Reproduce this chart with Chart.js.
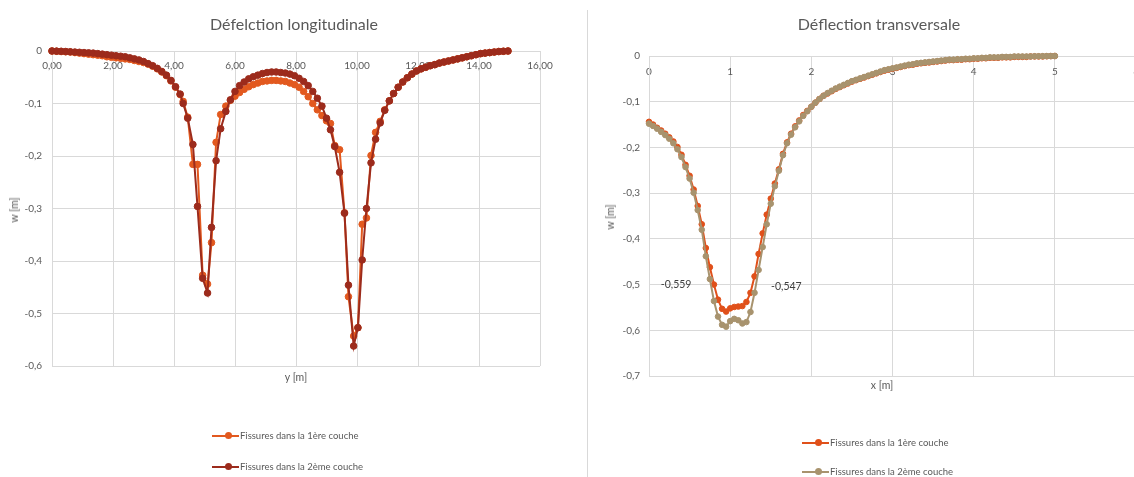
<!DOCTYPE html>
<html>
<head>
<meta charset="utf-8">
<script src="https://cdn.jsdelivr.net/npm/chart.js@4.4.1/dist/chart.umd.min.js"></script>
<style>
  body { margin: 0; width: 1134px; height: 477px; overflow: hidden; position: relative; background: #fff; font-family: Lato, sans-serif; color: #595959; }
  canvas { position: absolute; top: 0; }
  .txt { position: absolute; white-space: nowrap; transform: translate(-50%, -50%); }
  .title { font-size: 16px; }
  .axt { font-size: 10.5px; }
  .vert { transform: translate(-50%, -50%) rotate(-90deg); }
  .leg { position: absolute; font-size: 9.5px; white-space: nowrap; height: 12px; line-height: 12px; }
  .ln { display: inline-block; position: relative; width: 27px; height: 2px; vertical-align: middle; margin-right: 1px; top: -1px; }
  .dt { position: absolute; left: 13px; top: -2.5px; width: 7px; height: 7px; border-radius: 50%; }
  .sep { position: absolute; left: 587px; top: 10px; width: 1px; height: 467px; background: #d9d9d9; }
</style>
</head>
<body>
<canvas id="longi" width="567" height="477" style="left:0"></canvas>
<!-- wider than the window on purpose: the x = 6 gridline falls just off the picture -->
<canvas id="trans" width="582" height="477" style="left:567px"></canvas>
<div class="sep"></div>

<div class="txt title" style="left:294px; top:23px">Défelction longitudinale</div>
<div class="txt axt vert" style="left:14px; top:210px">w [m]</div>
<div class="txt axt" style="left:296px; top:377px">y [m]</div>

<div class="txt title" style="left:879px; top:23px">Déflection transversale</div>
<div class="txt axt vert" style="left:610px; top:217px">w [m]</div>
<div class="txt axt" style="left:882px; top:385px">x [m]</div>

<script>
// --- Déflection longitudinale ---
const seriesNames = ['Fissures dans la 1ère couche', 'Fissures dans la 2ème couche'];

const xLong = [
  0, 0.15, 0.3, 0.45, 0.6, 0.75, 0.9, 1.05, 1.2, 1.35, 1.5, 1.65, 1.8, 1.95, 2.1,
  2.25, 2.4, 2.55, 2.7, 2.85, 3.0, 3.15, 3.3, 3.45, 3.6, 3.75, 3.9, 4.05, 4.2,
  4.3, 4.45, 4.62, 4.77, 4.94, 5.1, 5.23, 5.38, 5.53, 5.7, 5.85, 6.0, 6.15,
  6.3, 6.45, 6.6, 6.75, 6.9, 7.05, 7.2, 7.35, 7.5, 7.65, 7.8, 7.95, 8.1, 8.25, 8.4, 8.55, 8.7, 8.85, 9.0,
  9.13, 9.27, 9.43, 9.59, 9.72, 9.89, 10.03, 10.17, 10.31, 10.46, 10.61, 10.76, 10.91, 11.06,
  11.2, 11.35, 11.5, 11.65, 11.8, 11.95, 12.1, 12.25, 12.4, 12.55, 12.7, 12.85, 13.0,
  13.15, 13.3, 13.45, 13.6, 13.75, 13.9, 14.05, 14.2, 14.35, 14.5, 14.65, 14.8, 14.95
];
const wLong1 = [
  0, -0.0005, -0.001, -0.0015, -0.002, -0.003, -0.004, -0.005, -0.006, -0.007, -0.008, -0.009, -0.011, -0.012, -0.013,
  -0.014, -0.015, -0.016, -0.018, -0.020, -0.022, -0.025, -0.029, -0.034, -0.040, -0.047, -0.057, -0.069, -0.083,
  -0.096, -0.126, -0.216, -0.216, -0.427, -0.444, -0.365, -0.174, -0.121, -0.105, -0.094, -0.086, -0.079,
  -0.073, -0.068, -0.064, -0.061, -0.058, -0.057, -0.056, -0.056, -0.057, -0.058, -0.061, -0.064, -0.069, -0.077, -0.087, -0.100, -0.112, -0.123, -0.133,
  -0.138, -0.180, -0.188, -0.308, -0.468, -0.543, -0.527, -0.330, -0.318, -0.199, -0.155, -0.134, -0.112, -0.095,
  -0.081, -0.069, -0.059, -0.051, -0.044, -0.038, -0.034, -0.031, -0.028, -0.026, -0.023, -0.021, -0.019,
  -0.017, -0.015, -0.013, -0.011, -0.009, -0.007, -0.005, -0.004, -0.003, -0.002, -0.001, -0.0005, 0
];
const wLong2 = [
  0, -0.0003, -0.0006, -0.001, -0.0015, -0.002, -0.0025, -0.003, -0.0035, -0.004, -0.005, -0.006, -0.007, -0.008, -0.009,
  -0.010, -0.011, -0.013, -0.015, -0.017, -0.020, -0.024, -0.028, -0.033, -0.039, -0.046, -0.056, -0.068, -0.082,
  -0.100, -0.128, -0.178, -0.296, -0.433, -0.461, -0.336, -0.209, -0.148, -0.115, -0.093, -0.077, -0.066,
  -0.059, -0.053, -0.049, -0.046, -0.043, -0.041, -0.040, -0.040, -0.041, -0.042, -0.044, -0.047, -0.052, -0.058, -0.066, -0.077, -0.090, -0.105, -0.128,
  -0.150, -0.182, -0.231, -0.309, -0.446, -0.562, -0.527, -0.398, -0.300, -0.213, -0.168, -0.137, -0.113, -0.095,
  -0.081, -0.069, -0.059, -0.051, -0.044, -0.038, -0.034, -0.031, -0.028, -0.026, -0.023, -0.021, -0.019,
  -0.017, -0.015, -0.013, -0.011, -0.009, -0.007, -0.005, -0.004, -0.003, -0.002, -0.001, -0.0005, 0
];

// --- Déflection transversale ---
const xTrans = [
  0.00, 0.05, 0.10, 0.15, 0.20, 0.25, 0.30, 0.35, 0.40, 0.45,
  0.50, 0.55, 0.60, 0.65, 0.70, 0.75, 0.80, 0.85, 0.90, 0.95,
  1.00, 1.05, 1.10, 1.15, 1.20, 1.25, 1.30, 1.35, 1.40, 1.45,
  1.50, 1.55, 1.60, 1.65, 1.70, 1.75, 1.80, 1.85, 1.90, 1.95,
  2.00, 2.05, 2.10, 2.15, 2.20, 2.25, 2.30, 2.35, 2.40, 2.45,
  2.50, 2.55, 2.60, 2.65, 2.70, 2.75, 2.80, 2.85, 2.90, 2.95,
  3.00, 3.05, 3.10, 3.15, 3.20, 3.25, 3.30, 3.35, 3.40, 3.45,
  3.50, 3.55, 3.60, 3.65, 3.70, 3.75, 3.80, 3.85, 3.90, 3.95,
  4.00, 4.05, 4.10, 4.15, 4.20, 4.25, 4.30, 4.35, 4.40, 4.45,
  4.50, 4.55, 4.60, 4.65, 4.70, 4.75, 4.80, 4.85, 4.90, 4.95,
  5.00
];
const wTrans1 = [
  -0.144, -0.150, -0.157, -0.163, -0.170, -0.178, -0.187, -0.199, -0.216, -0.238,
  -0.262, -0.292, -0.328, -0.368, -0.420, -0.462, -0.500, -0.533, -0.553, -0.559,
  -0.552, -0.549, -0.548, -0.547, -0.538, -0.518, -0.482, -0.433, -0.388, -0.347,
  -0.312, -0.279, -0.248, -0.214, -0.189, -0.170, -0.154, -0.141, -0.129, -0.120,
  -0.111, -0.102, -0.094, -0.087, -0.082, -0.077, -0.072, -0.068, -0.064, -0.060,
  -0.056, -0.053, -0.050, -0.047, -0.044, -0.041, -0.038, -0.035, -0.032, -0.030,
  -0.028, -0.026, -0.024, -0.022, -0.020, -0.019, -0.017, -0.016, -0.015, -0.014,
  -0.013, -0.012, -0.011, -0.010, -0.009, -0.009, -0.008, -0.008, -0.007, -0.007,
  -0.006, -0.006, -0.005, -0.005, -0.004, -0.004, -0.004, -0.003, -0.003, -0.003,
  -0.002, -0.002, -0.002, -0.002, -0.001, -0.001, -0.001, -0.001, -0.0005, -0.0002,
  0
];
const wTrans2 = [
  -0.148, -0.153, -0.159, -0.166, -0.173, -0.181, -0.191, -0.204, -0.221, -0.243,
  -0.268, -0.299, -0.337, -0.380, -0.438, -0.488, -0.536, -0.570, -0.588, -0.592,
  -0.580, -0.575, -0.578, -0.585, -0.582, -0.560, -0.518, -0.468, -0.418, -0.368,
  -0.323, -0.285, -0.251, -0.217, -0.191, -0.172, -0.156, -0.143, -0.131, -0.121,
  -0.111, -0.102, -0.094, -0.087, -0.081, -0.076, -0.071, -0.067, -0.063, -0.059,
  -0.055, -0.052, -0.049, -0.046, -0.043, -0.040, -0.037, -0.034, -0.031, -0.029,
  -0.027, -0.025, -0.023, -0.021, -0.019, -0.018, -0.016, -0.015, -0.014, -0.013,
  -0.012, -0.011, -0.010, -0.009, -0.008, -0.008, -0.007, -0.007, -0.006, -0.006,
  -0.005, -0.005, -0.004, -0.004, -0.003, -0.003, -0.003, -0.002, -0.002, -0.002,
  -0.001, -0.001, -0.001, -0.001, -0.001, -0.0005, -0.0005, -0.0003, -0.0002, -0.0001,
  0
];
// points of series 1 that carry a value label
const transLabelIdx = [19, 23];

const gridColor = '#d9d9d9';
const tickFont = { family: 'Lato', size: 10 };

const fmtComma = (v, d) => (Math.abs(v) < 1e-9 ? '0' : v.toFixed(d).replace('.', ','));
const toPoints = (xs, ys) => xs.map((x, i) => ({ x, y: ys[i] }));

// order: the 2nd series is painted over the 1st, like in Excel
function makeDataset(label, xs, ys, color, radius, order) {
  return {
    label, data: toPoints(xs, ys), order,
    showLine: true, borderColor: color, backgroundColor: color, borderWidth: 2,
    pointRadius: radius, pointHoverRadius: radius, pointBorderWidth: 1,
    pointBorderColor: color, pointBackgroundColor: color, clip: false
  };
}

function baseOptions(cfg) {
  return {
    responsive: false, animation: false,
    layout: { padding: cfg.padding },
    plugins: { legend: { display: false }, tooltip: { enabled: false }, title: { display: false } },
    scales: {
      x: {
        type: 'linear', position: { y: 0 }, min: cfg.xMin, max: cfg.xMax,
        grid: { color: gridColor, drawTicks: false },
        border: { color: gridColor },
        ticks: { stepSize: cfg.xStep, padding: cfg.xPad, color: '#595959', font: tickFont, maxRotation: 0,
                 callback: cfg.xFmt }
      },
      y: {
        type: 'linear', position: 'left', min: cfg.yMin, max: 0,
        afterFit: (s) => { s.width = cfg.yWidth; },
        grid: { color: gridColor, drawTicks: false },
        border: { color: gridColor },
        ticks: { stepSize: 0.1, padding: cfg.yPad, color: '#595959', font: tickFont,
                 callback: (v) => fmtComma(v, 1) }
      }
    }
  };
}

const valueLabels = {
  id: 'valueLabels',
  afterDatasetsDraw(chart, args, opts) {
    if (!opts.indices) return;
    const meta = chart.getDatasetMeta(0);
    const ds = chart.data.datasets[0];
    const ctx = chart.ctx;
    ctx.save();
    ctx.font = '10.5px Lato';
    ctx.fillStyle = '#404040';
    ctx.textAlign = 'center';
    ctx.textBaseline = 'middle';
    opts.indices.forEach((idx, k) => {
      const el = meta.data[idx];
      const off = opts.offsets[k];
      ctx.fillText(fmtComma(ds.data[idx].y, 3), el.x + off[0], el.y + off[1]);
    });
    ctx.restore();
  }
};

const longChart = new Chart(document.getElementById('longi'), {
  type: 'scatter',
  data: {
    datasets: [
      makeDataset(seriesNames[0], xLong, wLong1, '#E2591F', 3.3, 2),
      makeDataset(seriesNames[1], xLong, wLong2, '#9C2B1C', 3.3, 1)
    ]
  },
  options: baseOptions({
    padding: { left: 0, top: 51, right: 27, bottom: 111 },
    xMin: 0, xMax: 16, xStep: 2, xPad: 9, xFmt: (v) => v.toFixed(2).replace('.', ','),
    yMin: -0.6, yWidth: 52, yPad: 10
  })
});

const transOpts = baseOptions({
  padding: { left: 0, top: 56, right: 4, bottom: 101 },
  xMin: 0, xMax: 6, xStep: 1, xPad: 10, xFmt: (v) => String(v),
  yMin: -0.7, yWidth: 82, yPad: 9
});
transOpts.plugins.valueLabels = { indices: transLabelIdx, offsets: [[-50, -27], [44, -19]] };

const transChart = new Chart(document.getElementById('trans'), {
  type: 'scatter',
  data: {
    datasets: [
      makeDataset(seriesNames[0], xTrans, wTrans1, '#E0501A', 2.8, 2),
      makeDataset(seriesNames[1], xTrans, wTrans2, '#A8936E', 2.8, 1)
    ]
  },
  options: transOpts,
  plugins: [valueLabels]
});

function addLegend(chart, x, rows) {
  chart.data.datasets.forEach((ds, i) => {
    const d = document.createElement('div');
    d.className = 'leg';
    d.style.left = x + 'px';
    d.style.top = (rows[i] - 6) + 'px';
    d.innerHTML = '<span class="ln" style="background:' + ds.borderColor + '"><span class="dt" style="background:' +
      ds.borderColor + '"></span></span>' + ds.label;
    document.body.appendChild(d);
  });
}
addLegend(longChart, 212, [436, 467]);
addLegend(transChart, 802, [443, 472]);
</script>
</body>
</html>
